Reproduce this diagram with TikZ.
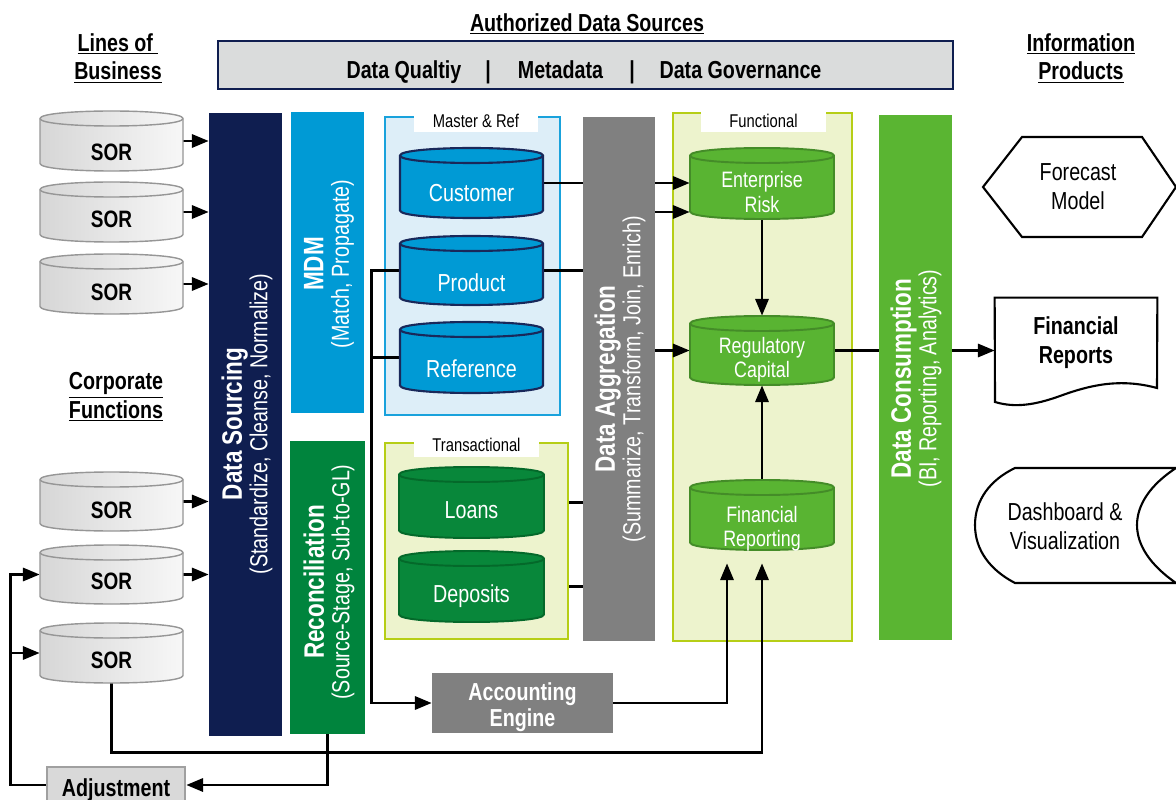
\documentclass[tikz,border=0pt]{standalone}
\usepackage{fontspec}
\setmainfont{Liberation Sans}[FakeStretch=0.8]
\usetikzlibrary{arrows.meta,calc,fit}
\pgfdeclarelayer{back}
\pgfdeclarelayer{wires}
\pgfsetlayers{back,wires,main}

\definecolor{navy}{RGB}{15,30,80}
\definecolor{mdmblue}{RGB}{0,154,213}
\definecolor{recgreen}{RGB}{0,132,61}
\definecolor{agggray}{RGB}{128,128,128}
\definecolor{congreen}{RGB}{90,181,50}
\definecolor{reffill}{RGB}{221,238,248}
\definecolor{refline}{RGB}{25,162,220}
\definecolor{olivefill}{RGB}{237,243,205}
\definecolor{oliveline}{RGB}{182,206,22}
\definecolor{cylnavy}{RGB}{25,40,90}
\definecolor{dkgreen}{RGB}{8,135,58}
\definecolor{dkgreenline}{RGB}{4,105,42}
\definecolor{ltgreen}{RGB}{89,180,50}
\definecolor{ltgreenline}{RGB}{68,140,40}
\definecolor{sorline}{RGB}{150,150,150}
\definecolor{barfill}{RGB}{218,220,220}
\definecolor{adjfill}{RGB}{217,217,217}
\definecolor{adjline}{RGB}{160,160,160}

% upright cylinder: name, left x, top y, right x, bottom y, body style, rim style, label, label y
\newcommand\drum[9]{%
  \path[#6] (#2,{#3+7.5}) .. controls (#2,{#3-2.5}) and (#4,{#3-2.5}) .. (#4,{#3+7.5})
    -- (#4,{#5-7.5}) .. controls (#4,{#5+2.5}) and (#2,{#5+2.5}) .. (#2,{#5-7.5}) -- cycle;
  \draw[#7] (#2,{#3+7.5}) .. controls (#2,{#3+17.5}) and (#4,{#3+17.5}) .. (#4,{#3+7.5});
  \node[fit={(#2,#3) (#4,#5)}, inner sep=0pt] (#1) {};
  \node[cyltext] (#1-label) at ({(#2+#4)/2},#9) {#8};
}
\newcommand\subline[1]{{\fontsize{14}{14.5}\selectfont\mdseries #1}}

\begin{document}
\begin{tikzpicture}[x=0.02cm, y=-0.02cm,
  wire/.style={line width=1.45pt, black},
  arr/.style={-{Triangle[length=9.5pt,width=7.5pt]}},
  box/.style={inner sep=0pt},
  hdr/.style={align=center, font=\fontsize{14}{16.4}\selectfont\bfseries},
  dqtext/.style={anchor=base, font=\fontsize{14}{16}\selectfont\bfseries},
  tabtext/.style={font=\fontsize{10.5}{12}\selectfont},
  bartitle/.style={text=white, align=center, font=\fontsize{16}{14.5}\selectfont\bfseries},
  shapetext/.style={align=center, font=\fontsize{14}{16.5}\selectfont},
  cyltext/.style={},
  sorbody/.style={left color=black!16, right color=black!3, draw=sorline, line width=0.8pt},
  sorrim/.style={draw=sorline, line width=0.8pt},
  bbody/.style={fill=mdmblue, draw=cylnavy, line width=1.2pt},
  brim/.style={draw=cylnavy, line width=1.2pt},
  gbody/.style={fill=dkgreen, draw=dkgreenline, line width=1.1pt},
  grim/.style={draw=dkgreenline, line width=1.1pt},
  lbody/.style={fill=ltgreen, draw=ltgreenline, line width=1.1pt},
  lrim/.style={draw=ltgreenline, line width=1.1pt}]
\useasboundingbox (0,0) rectangle (1176,800);

\begin{pgfonlayer}{back}
  \fill[white] (0,0) rectangle (1176,800);
  % grouping frames with their tabs
  \node[box, fit={(385,117) (560,415)}, fill=reffill, draw=refline, line width=1.4pt] (master) {};
  \node[box, fit={(414,113) (538,132)}, fill=white] (master-tab) {};
  \node[tabtext] (master-name) at (476,121) {Master \& Ref};
  \node[box, fit={(385,443) (568,639)}, fill=olivefill, draw=oliveline, line width=1.6pt] (trans) {};
  \node[box, fit={(414,436) (539,457)}, fill=white] (trans-tab) {};
  \node[tabtext] (trans-name) at (476.5,445) {Transactional};
  \node[box, fit={(673,113) (852,641)}, fill=olivefill, draw=oliveline, line width=1.6pt] (func) {};
  \node[box, fit={(701,109) (826,132)}, fill=white] (func-tab) {};
  \node[tabtext] (func-name) at (763.5,121) {Functional};
\end{pgfonlayer}

% headings
\node[hdr] (lob) at (118,58.5) {\underline{Lines of\ }\\\underline{Business}};
\node[hdr] (corp) at (116,397) {\underline{Corporate}\\\underline{Functions}};
\node[hdr] (info) at (1081,58.5) {\underline{Information}\\\underline{Products}};
\node[hdr] (auth) at (587,24) {\underline{Authorized Data Sources}};

% governance banner
\node[box, fit={(218,41) (953,89)}, fill=barfill, draw=navy, line width=1.5pt] (dq) {};
\node[dqtext] (dq-1) at (404,79) {Data Qualtiy};
\node[dqtext] (dq-s1) at (488,79) {|};
\node[dqtext] (dq-2) at (560.5,79) {Metadata};
\node[dqtext] (dq-s2) at (632,79) {|};
\node[dqtext] (dq-3) at (740.5,79) {Data Governance};

% systems of record
\begin{scope}[cyltext/.style={font=\fontsize{13.5}{15}\selectfont\bfseries}]
  \drum{sor1}{40}{111}{183}{171}{sorbody}{sorrim}{SOR}{152}
  \drum{sor2}{40}{182}{183}{242}{sorbody}{sorrim}{SOR}{219}
  \drum{sor3}{40}{254}{183}{314}{sorbody}{sorrim}{SOR}{292}
  \drum{sor4}{40}{472}{183}{531}{sorbody}{sorrim}{SOR}{510}
  \drum{sor5}{40}{545}{183}{604}{sorbody}{sorrim}{SOR}{581}
  \drum{sor6}{40}{623}{183}{683}{sorbody}{sorrim}{SOR}{660}
\end{scope}

% processing columns
\node[box, fit={(209,113) (282,736)}, fill=navy] (src) {};
\node[bartitle, rotate=90] (src-label) at (247,424) {Data Sourcing\\\subline{(Standardize, Cleanse, Normalize)}};
\node[box, fit={(291,112) (364,413)}, fill=mdmblue] (mdm) {};
\node[bartitle, rotate=90] (mdm-label) at (329,264) {MDM\\\subline{(Match, Propagate)}};
\node[box, fit={(290,441) (365,734)}, fill=recgreen] (rec) {};
\node[bartitle, rotate=90] (rec-label) at (329,582) {Reconciliation\\\subline{(Source-Stage, Sub-to-GL)}};
\node[box, fit={(583,117) (655,641)}, fill=agggray] (agg) {};
\node[bartitle, rotate=90] (agg-label) at (620,379) {Data Aggregation\\\subline{(Summarize, Transform, Join, Enrich)}};
\node[box, fit={(879,115) (952,640)}, fill=congreen] (con) {};
\node[bartitle, rotate=90] (con-label) at (916,378.5) {Data Consumption\\\subline{(BI, Reporting, Analytics)}};

% master and reference data, transactional data
\begin{scope}[cyltext/.style={text=white, font=\fontsize{14}{16}\selectfont}]
  \drum{cust}{400}{148}{543}{218}{bbody}{brim}{Customer}{193.5}
  \drum{prod}{400}{236}{543}{305}{bbody}{brim}{Product}{283}
  \drum{ref}{400}{322}{543}{393}{bbody}{brim}{Reference}{368.5}
  \drum{loans}{399}{467}{544}{538}{gbody}{grim}{Loans}{510}
  \drum{dep}{399}{551}{544}{622}{gbody}{grim}{Deposits}{596}
\end{scope}

% functional stores
\begin{scope}[cyltext/.style={text=white, align=center, font=\fontsize{12.7}{13.8}\selectfont}]
  \drum{er}{690}{148}{834}{219}{lbody}{lrim}{Enterprise\\Risk}{192}
  \drum{rc}{690}{316}{834}{385}{lbody}{lrim}{Regulatory\\Capital}{359.5}
  \drum{fr}{690}{480}{834}{550}{lbody}{lrim}{Financial\\Reporting}{528.5}
\end{scope}

% accounting engine and adjustment
\node[box, fit={(432,673) (613,733)}, fill=agggray] (acct) {};
\node[text=white, align=center, font=\fontsize{14}{14.7}\selectfont\bfseries] (acct-label) at (522.5,707) {Accounting\\Engine};
\node[box, fit={(47,767) (185,803)}, fill=adjfill, draw=adjline, line width=1.5pt] (adj) {};
\node[font=\fontsize{14}{16}\selectfont\bfseries] (adj-label) at (116,790) {Adjustment};

% information products
\draw[line width=1.2pt, fill=white] (983,187) -- (1022,137) -- (1142,137) -- (1176,187) -- (1142,237) -- (1022,237) -- cycle;
\node[shapetext] (forecast) at (1078,187) {Forecast\\Model};
\node[box, fit={(995,298) (1157,406)}] (finrep) {};
\draw[line width=1.2pt, fill=white] (finrep.north west) -- (finrep.north east) -- (1157,388)
  .. controls (1120,378) and (1090,385) .. (1060,396)
  .. controls (1035,405) and (1015,408) .. (995,402) -- cycle;
\node[shapetext, font=\fontsize{14}{16.5}\selectfont\bfseries] (finrep-label) at (1076,343) {Financial\\Reports};
\draw[line width=1.2pt, fill=white] (1015,468) -- (1176,468)
  .. controls (1150,485) and (1137,505) .. (1137,525)
  .. controls (1137,545) and (1150,565) .. (1176,583) -- (1015,583)
  .. controls (990,570) and (975,550) .. (975,525)
  .. controls (975,500) and (990,480) .. (1015,468) -- cycle;
\node[shapetext] (dash) at (1065,526) {Dashboard \&\\Visualization};

% data flows
\begin{pgfonlayer}{wires}
  \foreach \s in {sor1,sor2,sor3,sor4,sor5}
    \draw[wire,arr] (\s.east) -- (\s.east -| src.west);
  \draw[wire,arr] (cust.east) -- (cust.east -| er.west);
  \draw[wire,arr] (prod.east) -- ++(60,0) |- ($(er.west)+(0,28.5)$);
  \draw[wire,arr] (prod.west) -- ++(-28,0) |- (acct.west);
  \draw[wire] (ref.west) -- ++(-28,0);
  \draw[wire,arr] (loans.east -| trans.east) -- ++(32,0) |- (rc.west);
  \draw[wire] (dep.east -| trans.east) -- ++(32,0) |- (loans.east -| trans.east);
  \draw[wire,arr] (er.south) -- (rc.north);
  \draw[wire,arr] (fr.north) -- (rc.south);
  \draw[wire,arr] (rc.east) -- (rc.east -| finrep.west);
  \draw[wire,arr] (acct.east) -| ($(fr.south)+(-35,13)$);
  \draw[wire,arr] (sor6.south) -- ++(0,69) -| ($(fr.south)+(0,13)$);
  \draw[wire,arr] (rec.south) |- (adj.east);
  \coordinate (adjturn) at ($(adj.west)+(-35,0)$);
  \draw[wire,arr] (adj.west) -- (adjturn) |- (sor5.west);
  \draw[wire,arr] (adjturn) |- (sor6.west);
\end{pgfonlayer}
\end{tikzpicture}
\end{document}
